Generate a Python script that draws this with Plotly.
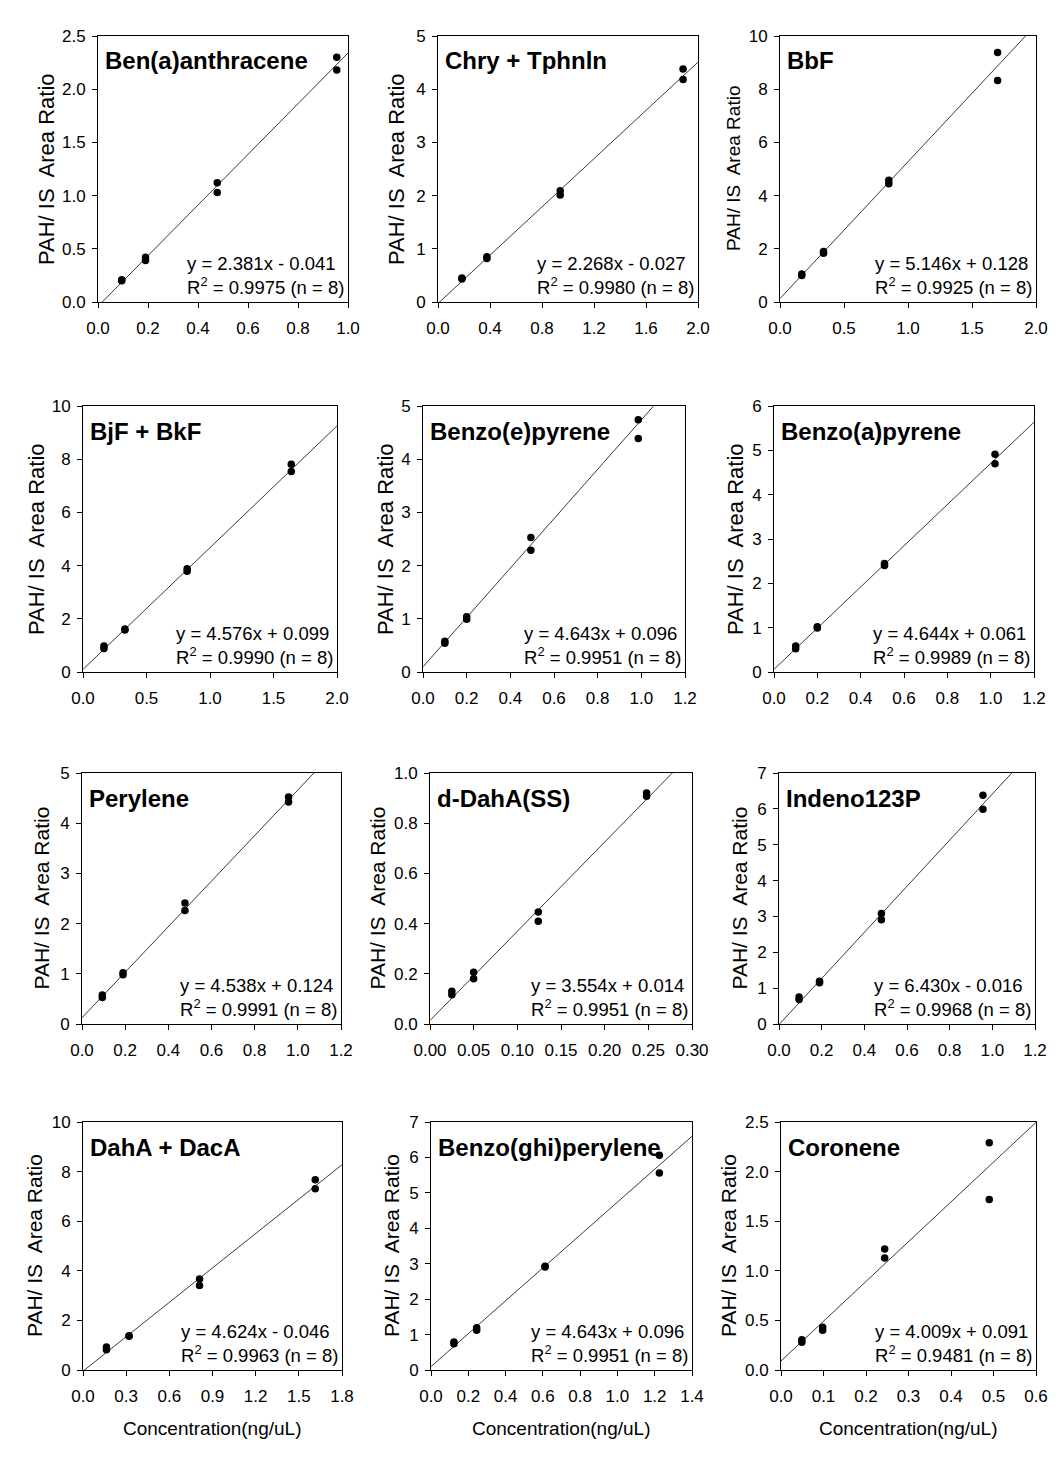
import plotly.graph_objects as go

W, H = 1064, 1481

# ---------------- data ----------------
names = ["Ben(a)anthracene", "Chry + Tphnln", "BbF",
         "BjF + BkF", "Benzo(e)pyrene", "Benzo(a)pyrene",
         "Perylene", "d-DahA(SS)", "Indeno123P",
         "DahA + DacA", "Benzo(ghi)perylene", "Coronene"]

conc = [
    [0.095, 0.095, 0.19, 0.19, 0.477, 0.477, 0.955, 0.955],
    [0.184, 0.184, 0.376, 0.376, 0.94, 0.94, 1.885, 1.885],
    [0.17, 0.17, 0.34, 0.34, 0.85, 0.85, 1.70, 1.70],
    [0.165, 0.165, 0.33, 0.33, 0.82, 0.82, 1.64, 1.64],
    [0.10, 0.10, 0.20, 0.20, 0.494, 0.494, 0.986, 0.986],
    [0.10, 0.10, 0.20, 0.20, 0.51, 0.51, 1.02, 1.02],
    [0.094, 0.094, 0.19, 0.19, 0.477, 0.477, 0.957, 0.957],
    [0.025, 0.025, 0.05, 0.05, 0.124, 0.124, 0.248, 0.248],
    [0.094, 0.094, 0.19, 0.19, 0.48, 0.48, 0.956, 0.956],
    [0.163, 0.163, 0.32, 0.32, 0.81, 0.81, 1.614, 1.614],
    [0.123, 0.123, 0.245, 0.245, 0.612, 0.612, 1.225, 1.225],
    [0.049, 0.049, 0.098, 0.098, 0.244, 0.244, 0.49, 0.49],
]

ratio = [
    [0.20, 0.21, 0.39, 0.42, 1.03, 1.12, 2.18, 2.30],
    [0.43, 0.45, 0.82, 0.85, 2.01, 2.09, 4.18, 4.38],
    [1.00, 1.05, 1.83, 1.90, 4.45, 4.58, 8.33, 9.38],
    [0.88, 0.98, 1.58, 1.62, 3.79, 3.88, 7.54, 7.81],
    [0.54, 0.58, 0.99, 1.04, 2.29, 2.53, 4.39, 4.74],
    [0.525, 0.585, 0.99, 1.02, 2.40, 2.45, 4.70, 4.91],
    [0.53, 0.58, 0.98, 1.02, 2.26, 2.41, 4.42, 4.52],
    [0.117, 0.13, 0.18, 0.206, 0.409, 0.446, 0.907, 0.92],
    [0.68, 0.75, 1.15, 1.19, 2.91, 3.08, 5.99, 6.38],
    [0.82, 0.93, 1.36, 1.38, 3.41, 3.67, 7.31, 7.67],
    [0.74, 0.79, 1.12, 1.19, 2.91, 2.93, 5.56, 6.06],
    [0.28, 0.306, 0.40, 0.43, 1.13, 1.22, 1.72, 2.29],
]

slopes = [2.381, 2.268, 5.146, 4.576, 4.643, 4.644, 4.538, 3.554, 6.430, 4.624, 4.643, 4.009]
intercepts = [-0.041, -0.027, 0.128, 0.099, 0.096, 0.061, 0.124, 0.014, -0.016, -0.046, 0.096, 0.091]
r2 = [0.9975, 0.9980, 0.9925, 0.9990, 0.9951, 0.9989, 0.9991, 0.9951, 0.9968, 0.9963, 0.9951, 0.9481]

x_max = [1.0, 2.0, 2.0, 2.0, 1.2, 1.2, 1.2, 0.30, 1.2, 1.8, 1.4, 0.6]
x_step = [0.2, 0.4, 0.5, 0.5, 0.2, 0.2, 0.2, 0.05, 0.2, 0.3, 0.2, 0.1]
x_fmt = [".1f", ".1f", ".1f", ".1f", ".1f", ".1f", ".1f", ".2f", ".1f", ".1f", ".1f", ".1f"]
y_max = [2.5, 5, 10, 10, 5, 6, 5, 1.0, 7, 10, 7, 2.5]
y_step = [0.5, 1, 2, 2, 1, 1, 1, 0.2, 1, 2, 1, 0.5]
y_fmt = [".1f", "d", "d", "d", "d", "d", "d", ".1f", "d", "d", "d", ".1f"]

y_title = "PAH/ IS  Area Ratio"
x_title = "Concentration(ng/uL)"

# ---------------- layout (pixels) ----------------
boxes = [
    (98, 348, 36, 302), (438, 698, 36, 302), (780, 1036, 36, 302),
    (83, 337, 406, 672), (423, 685, 406, 672), (774, 1034, 406, 672),
    (82, 341, 773, 1024), (430, 692, 773, 1024), (779, 1035, 773, 1024),
    (83, 342, 1122, 1370), (431, 692, 1122, 1370), (781, 1036, 1122, 1370),
]
ytitle_off = [52, 42, 47, 47, 38, 39, 41, 53, 40, 49, 40, 53]
ytitle_size = [22, 22, 19, 22, 22, 22, 21, 21, 21, 21, 21, 21]

FONT = "Liberation Sans, Arial, sans-serif"

fig = go.Figure()
layout = dict(
    width=W, height=H,
    margin=dict(l=0, r=0, t=0, b=0, autoexpand=False),
    paper_bgcolor="white", plot_bgcolor="white",
    showlegend=False,
    font=dict(family=FONT, color="black"),
)
annotations = []

for i in range(12):
    l, r, t, b = boxes[i]
    sfx = "" if i == 0 else str(i + 1)
    xa, ya = "x" + sfx, "y" + sfx

    fig.add_trace(go.Scatter(
        x=[0, x_max[i]],
        y=[intercepts[i], slopes[i] * x_max[i] + intercepts[i]],
        mode="lines", line=dict(color="#3a3a3a", width=1),
        xaxis=xa, yaxis=ya, hoverinfo="skip"))
    fig.add_trace(go.Scatter(
        x=conc[i], y=ratio[i], mode="markers",
        marker=dict(color="black", size=7.5, line=dict(width=0)),
        xaxis=xa, yaxis=ya, cliponaxis=False))

    common = dict(showline=True, linecolor="black", linewidth=1, mirror=True,
                  ticks="outside", ticklen=5, tickwidth=1, tickcolor="black",
                  showgrid=False, zeroline=False, automargin=False,
                  tickfont=dict(family=FONT, size=17, color="black"))
    layout["xaxis" + sfx] = dict(
        domain=[l / W, r / W], anchor=ya, range=[0, x_max[i]],
        tick0=0, dtick=x_step[i], tickformat=x_fmt[i], ticklabelstandoff=6, **common)
    layout["yaxis" + sfx] = dict(
        domain=[1 - b / H, 1 - t / H], anchor=xa, range=[0, y_max[i]],
        tick0=0, dtick=y_step[i], tickformat=y_fmt[i], ticklabelstandoff=3, **common)

    # panel title
    annotations.append(dict(
        text="<b>" + names[i] + "</b>", xref=xa + " domain", yref=ya + " domain",
        x=0, y=1, xanchor="left", yanchor="middle", xshift=5, yshift=-25,
        showarrow=False, font=dict(family=FONT, size=24, color="black")))

    # equation
    sign = "+" if intercepts[i] >= 0 else "-"
    eq = (f"y = {slopes[i]:.3f}x {sign} {abs(intercepts[i]):.3f}<br>"
          f"R<sup>2</sup> = {r2[i]:.4f} (n = {len(conc[i])})")
    annotations.append(dict(
        text=eq, xref=xa + " domain", yref=ya + " domain",
        x=1, y=0, xanchor="right", yanchor="bottom", align="left",
        xshift=-2, yshift=2, showarrow=False,
        font=dict(family=FONT, size=18.5, color="black")))

    # y title
    annotations.append(dict(
        text=y_title, xref="paper", yref="paper",
        x=(l - ytitle_off[i]) / W, y=1 - (t + b) / 2 / H,
        xanchor="center", yanchor="middle", textangle=-90, showarrow=False,
        font=dict(family=FONT, size=ytitle_size[i], color="black")))

    # x title (bottom row only)
    if i >= 9:
        annotations.append(dict(
            text=x_title, xref="paper", yref="paper",
            x=(l + r) / 2 / W, y=1 - 1428 / H,
            xanchor="center", yanchor="middle", showarrow=False,
            font=dict(family=FONT, size=19, color="black")))

layout["annotations"] = annotations
fig.update_layout(**layout)
fig.write_html("out.html")
